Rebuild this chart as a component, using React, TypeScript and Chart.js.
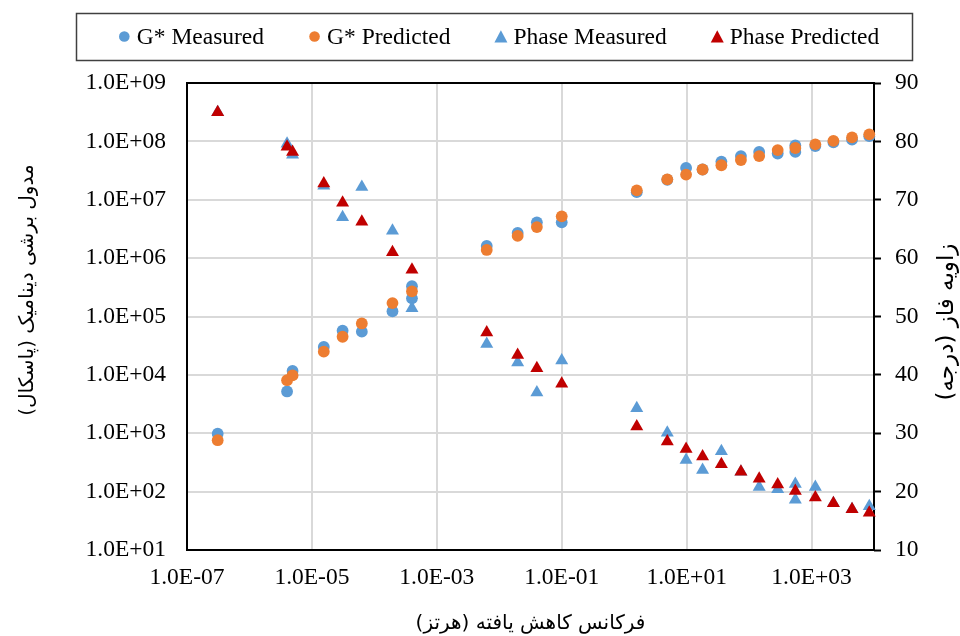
import React, { useEffect, useRef } from "react";
import { Chart, registerables } from "chart.js";

Chart.register(...registerables);

// Reduced frequency (Hz)
const freq = [
  3.1e-7, 4.0e-6, 4.9e-6, 1.55e-5, 3.1e-5, 6.3e-5, 1.95e-4, 4.0e-4,
  6.3e-3, 0.0197, 0.04, 0.1, 1.59, 4.9, 9.8, 18, 36, 74, 145, 287, 550,
  1150, 2240, 4450, 8400,
];
// Dynamic shear modulus (Pa)
const gMeasured = [
  980, 5200, 11700, 30000, 57000, 55000, 123000, 330000,
  1.62e6, 2.7e6, 4.1e6, 4.1e6, 1.35e7, 2.2e7, 3.5e7, 3.3e7, 4.5e7, 5.6e7,
  6.6e7, 6.2e7, 8.5e7, 8.3e7, 9.6e7, 1.07e8, 1.23e8,
];
const gPredicted = [
  760, 8100, 9800, 25000, 45000, 76000, 170000, 270000,
  1.38e6, 2.4e6, 3.4e6, 5.2e6, 1.45e7, 2.24e7, 2.7e7, 3.3e7, 3.9e7, 4.8e7,
  5.6e7, 7.1e7, 7.7e7, 8.9e7, 1.02e8, 1.17e8, 1.32e8,
];
// Phase angle (degrees)
const phaseMeasured = [
  85.0, 79.6, 77.7, 72.4, 67.0, 72.2, 64.7, 51.4,
  45.3, 42.1, 37.0, 42.45, 34.3, 30.1, 25.4, 23.7, 26.9, 23.4,
  20.8, 20.4, 21.3, 20.8, 18.0, 17.0, 17.5,
];
const phasePredicted = [
  85.0, 79.1, 78.2, 72.8, 69.5, 66.25, 61.0, 58.0,
  47.25, 43.4, 41.15, 38.5, 31.15, 28.6, 27.3, 26.0, 24.7, 23.4,
  22.2, 21.2, 20.1, 19.0, 18.0, 17.0, 16.4,
];
// Repeated measurements at nearly the same frequency
const extraFreq = [4.0e-4, 550];
const extraGMeasured = [205000, 6.6e7];
const extraPhaseMeasured = [null, 18.6];

const xTicks = [1e-7, 1e-5, 1e-3, 1e-1, 1e1, 1e3];
const yTicks = [1e1, 1e2, 1e3, 1e4, 1e5, 1e6, 1e7, 1e8, 1e9];

const seriesLabels = ["G* Measured", "G* Predicted", "Phase Measured", "Phase Predicted"];
const seriesColors = ["#5B9BD5", "#ED7D31", "#5B9BD5", "#C00000"];
const xTitle = "فرکانس کاهش یافته (هرتز)";
const yTitle = "مدول برشی دینامیک (پاسکال)";
const y1Title = "زاویه فاز (درجه)";

const SERIF = '"Liberation Serif", "Times New Roman", serif';
const ARABIC = '"DejaVu Sans", "Liberation Serif", serif';
const FS = 23.5;

function fmtExp(v: number): string {
  const e = Math.round(Math.log10(v));
  const m = v / Math.pow(10, e);
  return `${m.toFixed(1)}E${e < 0 ? "-" : "+"}${String(Math.abs(e)).padStart(2, "0")}`;
}

function pts(xs: number[], ys: (number | null)[]) {
  return xs
    .map((x, i) => ({ x, y: ys[i] }))
    .filter((p) => p.y !== null && p.y !== undefined) as { x: number; y: number }[];
}

function drawMarker(ctx: CanvasRenderingContext2D, style: string, cx: number, cy: number, color: string) {
  ctx.fillStyle = color;
  ctx.beginPath();
  if (style === "circle") {
    ctx.arc(cx, cy, 5.3, 0, Math.PI * 2);
  } else {
    ctx.moveTo(cx, cy - 6.3);
    ctx.lineTo(cx + 6.5, cy + 6);
    ctx.lineTo(cx - 6.5, cy + 6);
    ctx.closePath();
  }
  ctx.fill();
}

const decorPlugin = {
  id: "decor",
  beforeDatasetsDraw(chart: any) {
    const { ctx, chartArea: a } = chart;
    ctx.save();
    ctx.strokeStyle = "#000";
    ctx.lineWidth = 2;
    ctx.strokeRect(a.left, a.top, a.right - a.left, a.bottom - a.top);
    ctx.restore();
  },
  afterDraw(chart: any) {
    const { ctx, chartArea: a } = chart;
    ctx.save();
    // Legend box
    ctx.strokeStyle = "#404040";
    ctx.lineWidth = 1.5;
    ctx.strokeRect(76.5, 13.5, 836, 47);
    ctx.font = `${FS}px ${SERIF}`;
    ctx.textBaseline = "middle";
    ctx.textAlign = "left";
    const styles = ["circle", "circle", "triangle", "triangle"];
    const mW = 11, gap1 = 7, gap2 = 45;
    const widths = seriesLabels.map((l) => ctx.measureText(l).width);
    const total = widths.reduce((s, w) => s + mW + gap1 + w, 0) + gap2 * (seriesLabels.length - 1);
    let x = 499 - total / 2;
    seriesLabels.forEach((l, i) => {
      drawMarker(ctx, styles[i], x + mW / 2, 36.5, seriesColors[i]);
      ctx.fillStyle = "#000";
      ctx.fillText(l, x + mW + gap1, 37.5);
      x += mW + gap1 + widths[i] + gap2;
    });

    // Axis titles (RTL)
    ctx.fillStyle = "#000";
    ctx.font = `20px ${ARABIC}`;
    ctx.direction = "rtl";
    ctx.textAlign = "center";
    ctx.textBaseline = "middle";
    ctx.fillText(xTitle, (a.left + a.right) / 2, 624);

    ctx.save();
    ctx.translate(28, 290);
    ctx.rotate(-Math.PI / 2);
    ctx.fillText(yTitle, 0, 0);
    ctx.restore();

    ctx.save();
    ctx.font = `23px ${ARABIC}`;
    ctx.translate(947, 322);
    ctx.rotate(-Math.PI / 2);
    ctx.fillText(y1Title, 0, 0);
    ctx.restore();

    ctx.restore();
  },
};

export default function App() {
  const canvasRef = useRef<HTMLCanvasElement | null>(null);

  useEffect(() => {
    const canvas = canvasRef.current;
    if (!canvas) return;
    const gMeas = pts(freq, gMeasured).concat(pts(extraFreq, extraGMeasured));
    const gPred = pts(freq, gPredicted);
    const pMeas = pts(freq, phaseMeasured).concat(pts(extraFreq, extraPhaseMeasured));
    const pPred = pts(freq, phasePredicted);

    const chart = new Chart(canvas, {
      type: "scatter",
      data: {
        datasets: [
          {
            label: seriesLabels[0], data: gMeas, yAxisID: "y", order: 4,
            pointStyle: "circle", pointRadius: 5.9, pointBorderWidth: 0,
            backgroundColor: seriesColors[0], borderColor: seriesColors[0], clip: false,
          },
          {
            label: seriesLabels[1], data: gPred, yAxisID: "y", order: 3,
            pointStyle: "circle", pointRadius: 5.9, pointBorderWidth: 0,
            backgroundColor: seriesColors[1], borderColor: seriesColors[1], clip: false,
          },
          {
            label: seriesLabels[2], data: pMeas, yAxisID: "y1", order: 2,
            pointStyle: "triangle", pointRadius: 7.5, pointBorderWidth: 0,
            backgroundColor: seriesColors[2], borderColor: seriesColors[2], clip: false,
          },
          {
            label: seriesLabels[3], data: pPred, yAxisID: "y1", order: 1,
            pointStyle: "triangle", pointRadius: 7.5, pointBorderWidth: 0,
            backgroundColor: seriesColors[3], borderColor: seriesColors[3], clip: false,
          },
        ] as any,
      },
      options: {
        animation: false,
        responsive: false,
        devicePixelRatio: 1,
        layout: { padding: { top: 83, left: 0, right: 0, bottom: 0 } },
        plugins: {
          legend: { display: false },
          tooltip: { enabled: false },
          title: { display: false },
        },
        scales: {
          x: {
            type: "logarithmic",
            position: "bottom",
            min: 1e-7,
            max: 1e4,
            afterBuildTicks: (scale: any) => {
              scale.ticks = xTicks.map((v) => ({ value: v, major: false }));
            },
            afterFit: (scale: any) => { scale.height = 86; },
            ticks: {
              autoSkip: false,
              maxRotation: 0,
              padding: 14,
              color: "#000",
              font: { family: SERIF, size: FS },
              callback: (v: any) => fmtExp(Number(v)),
            },
            grid: { color: "#d9d9d9", lineWidth: 2, drawTicks: false },
            border: { display: false },
          },
          y: {
            type: "logarithmic",
            position: "left",
            min: 10,
            max: 1e9,
            afterBuildTicks: (scale: any) => {
              scale.ticks = yTicks.map((v) => ({ value: v, major: false }));
            },
            afterFit: (scale: any) => { scale.width = 187; },
            ticks: {
              autoSkip: false,
              padding: 21,
              color: "#000",
              font: { family: SERIF, size: FS },
              callback: (v: any) => fmtExp(Number(v)),
            },
            grid: { color: "#d9d9d9", lineWidth: 2, drawTicks: false },
            border: { display: false },
          },
          y1: {
            type: "linear",
            position: "right",
            min: 10,
            max: 90,
            afterFit: (scale: any) => { scale.width = 86; },
            ticks: {
              stepSize: 10,
              padding: 14,
              color: "#000",
              font: { family: SERIF, size: FS },
            },
            grid: {
              drawOnChartArea: false,
              drawTicks: true,
              tickLength: 7,
              tickColor: "#000",
              tickWidth: 2,
            },
            border: { display: false },
          },
        },
      } as any,
      plugins: [decorPlugin],
    });
    return () => chart.destroy();
  }, []);

  return (
    <div style={{ position: "absolute", left: 0, top: 0, width: 960, height: 636, background: "#fff" }}>
      <canvas ref={canvasRef} width={960} height={636} style={{ display: "block" }} />
    </div>
  );
}
